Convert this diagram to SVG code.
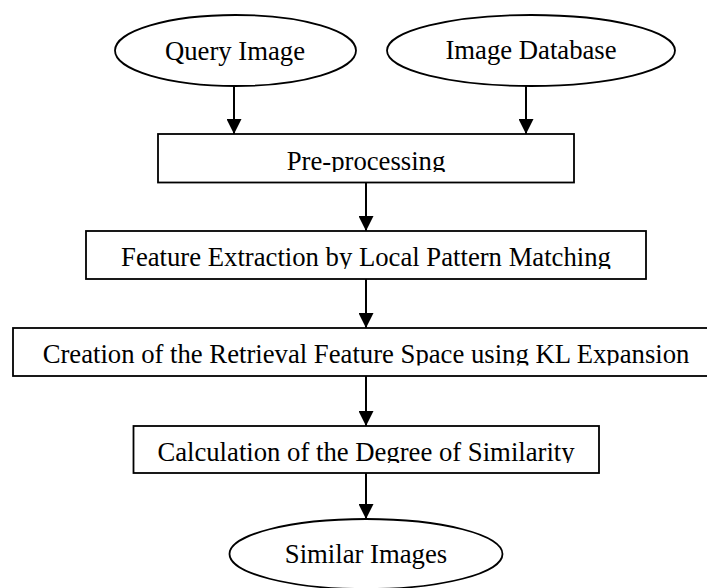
<svg xmlns="http://www.w3.org/2000/svg" width="707" height="588" viewBox="0 0 707 588">
  <style>
    .shape { fill: #fff; stroke: #000; stroke-width: 1.8; }
    .lbl { font-family: "Liberation Serif", "Times New Roman", serif; font-size: 26.7px; fill: #000; text-anchor: middle; }
    .edge { stroke: #000; stroke-width: 2; fill: none; }
  </style>
  <defs>
    <marker id="arr" markerUnits="userSpaceOnUse" markerWidth="15" markerHeight="15" refX="15" refY="7.5" orient="auto">
      <path d="M0,0 L15,7.5 L0,15 Z" fill="#000"/>
    </marker>
    <clipPath id="c-pre"><rect x="0" y="0" width="707" height="172"/></clipPath>
    <clipPath id="c-feat"><rect x="0" y="0" width="707" height="269"/></clipPath>
    <clipPath id="c-crea"><rect x="0" y="0" width="707" height="365.5"/></clipPath>
    <clipPath id="c-calc"><rect x="0" y="0" width="707" height="463"/></clipPath>
  </defs>
  <rect width="707" height="588" fill="#fff"/>

  <g id="connectors">
    <line class="edge" x1="234" y1="86" x2="234" y2="134" marker-end="url(#arr)"/>
    <line class="edge" x1="526" y1="86" x2="526" y2="134" marker-end="url(#arr)"/>
    <line class="edge" x1="366" y1="183" x2="366" y2="231" marker-end="url(#arr)"/>
    <line class="edge" x1="366" y1="279" x2="366" y2="328" marker-end="url(#arr)"/>
    <line class="edge" x1="366" y1="376" x2="366" y2="426" marker-end="url(#arr)"/>
    <line class="edge" x1="366" y1="473" x2="366" y2="519" marker-end="url(#arr)"/>
  </g>

  <g id="query-image">
    <ellipse class="shape" cx="235.5" cy="50.5" rx="120.5" ry="35.5"/>
    <text class="lbl" x="235" y="59.5">Query Image</text>
  </g>
  <g id="image-database">
    <ellipse class="shape" cx="531" cy="50.5" rx="144" ry="35.5"/>
    <text class="lbl" x="531" y="59">Image Database</text>
  </g>
  <g id="pre-processing">
    <rect class="shape" x="158" y="134" width="416" height="48.5"/>
    <text class="lbl" x="366" y="170" clip-path="url(#c-pre)">Pre-processing</text>
  </g>
  <g id="feature-extraction">
    <rect class="shape" x="86" y="231" width="560" height="48"/>
    <text class="lbl" x="366" y="266" clip-path="url(#c-feat)">Feature Extraction by Local Pattern Matching</text>
  </g>
  <g id="creation">
    <rect class="shape" x="13" y="328" width="710" height="48"/>
    <text class="lbl" x="366" y="363" clip-path="url(#c-crea)">Creation of the Retrieval Feature Space using KL Expansion</text>
  </g>
  <g id="calculation">
    <rect class="shape" x="133.5" y="426" width="465.5" height="47"/>
    <text class="lbl" x="366" y="461" clip-path="url(#c-calc)">Calculation of the Degree of Similarity</text>
  </g>
  <g id="similar-images">
    <ellipse class="shape" cx="366" cy="554" rx="136.5" ry="35"/>
    <text class="lbl" x="366" y="563">Similar Images</text>
  </g>
</svg>
